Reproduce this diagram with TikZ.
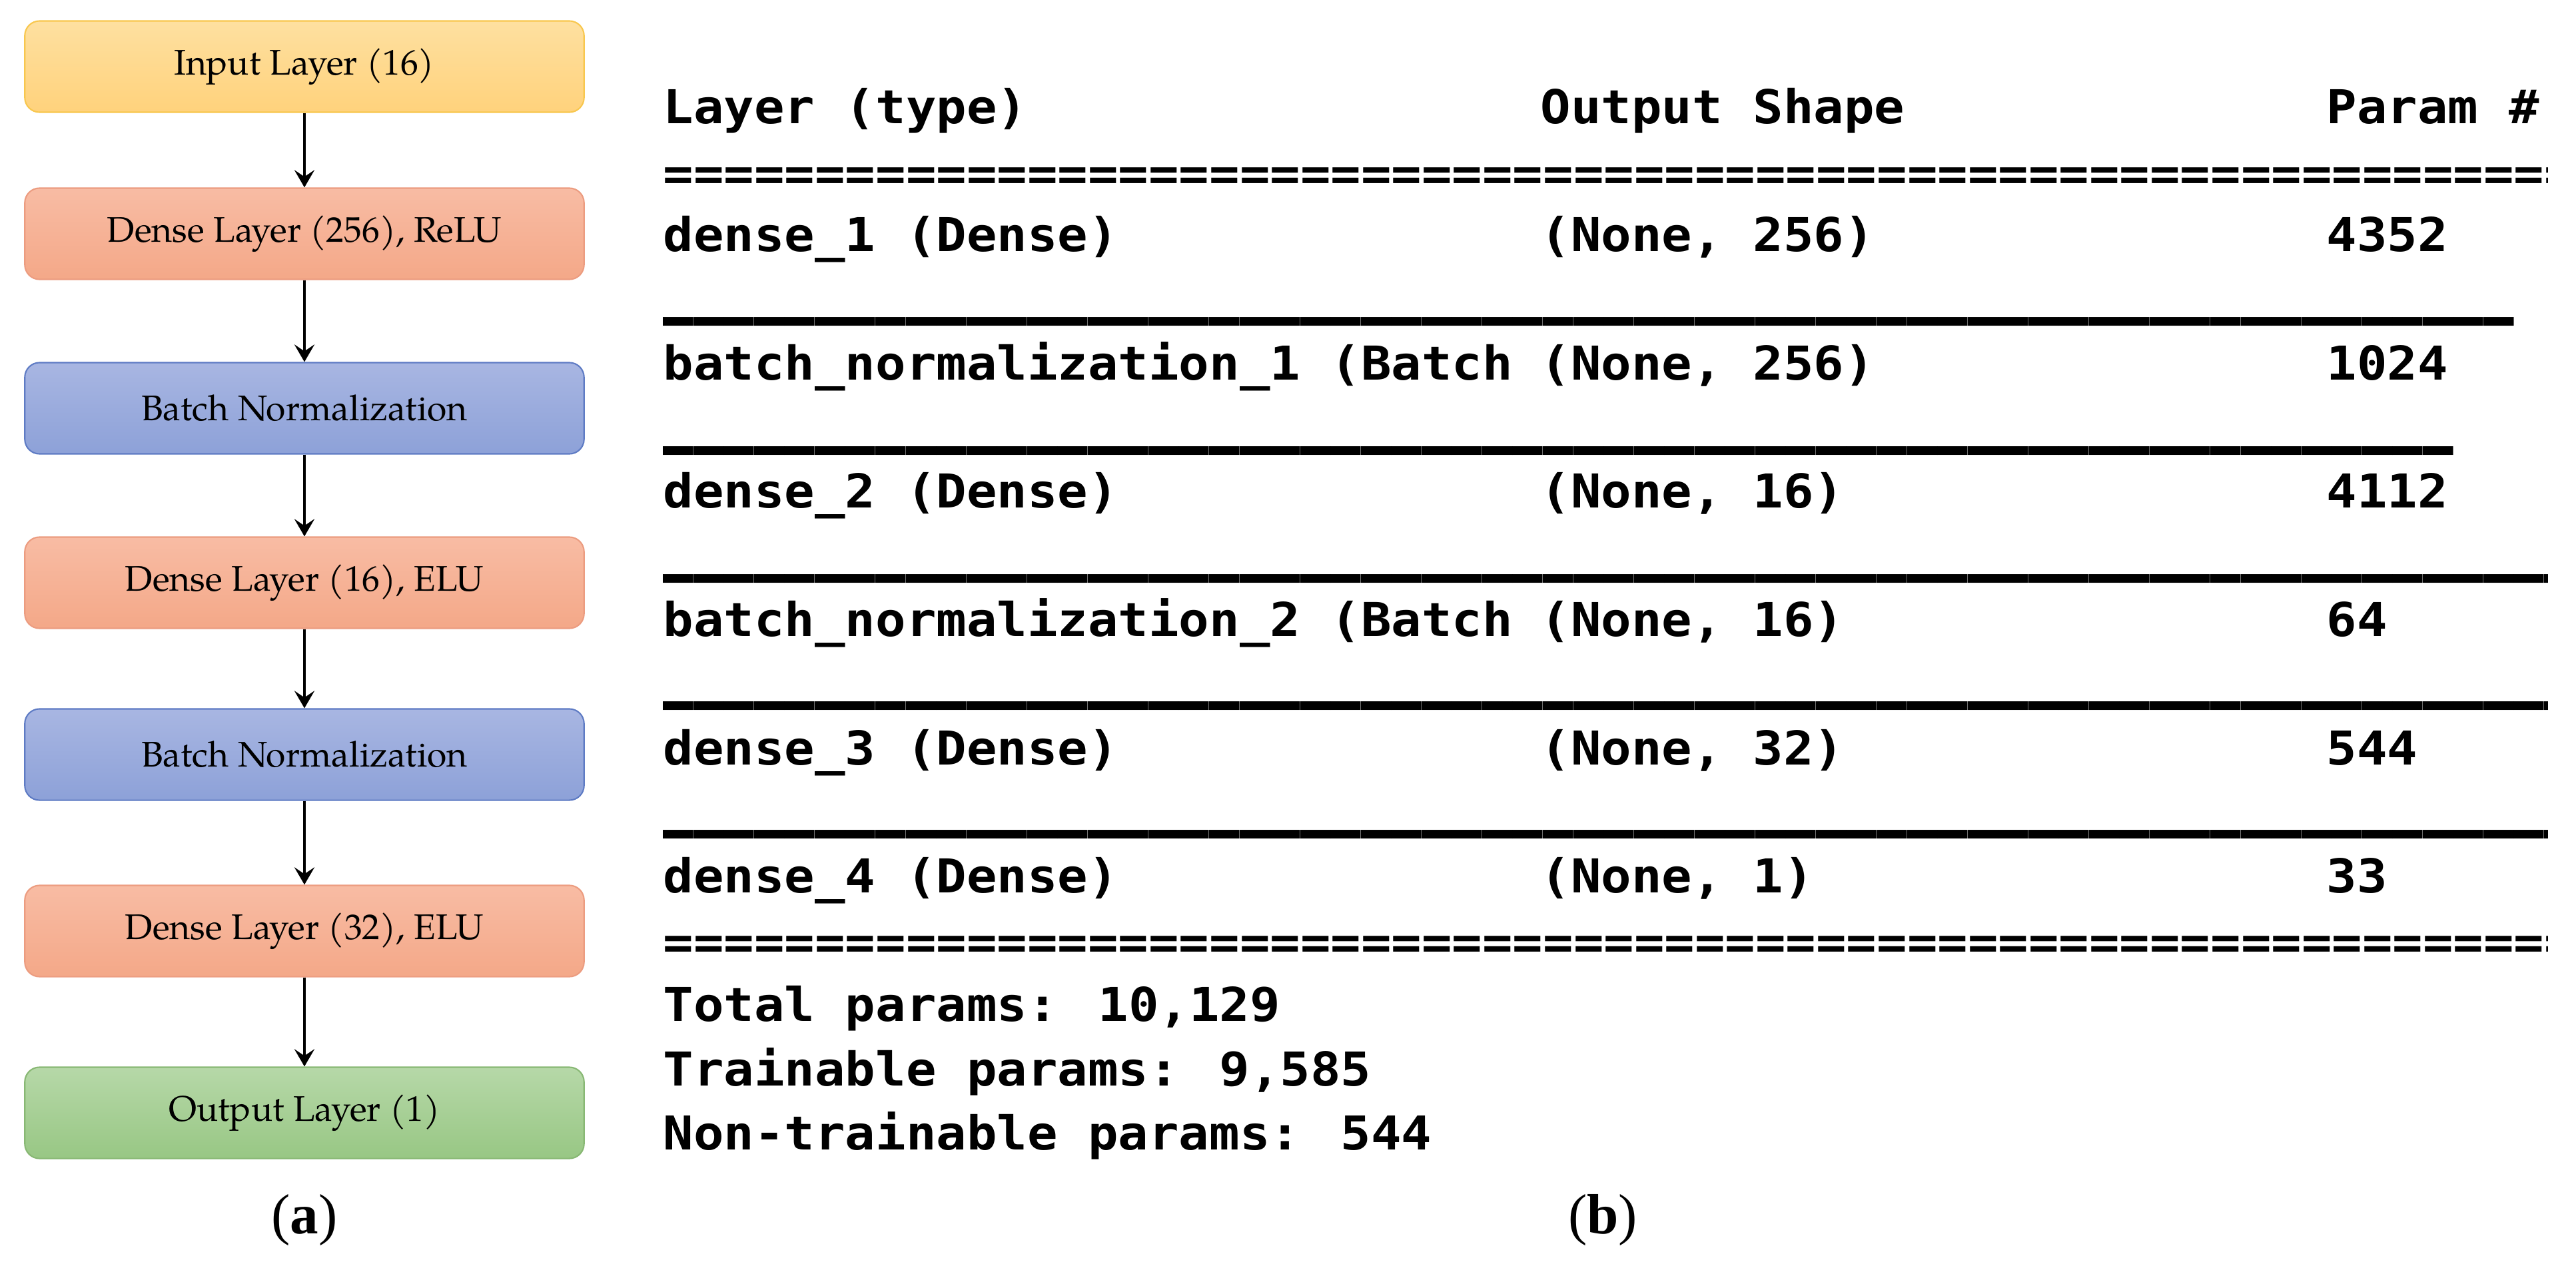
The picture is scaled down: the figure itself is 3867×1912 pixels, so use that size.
\documentclass[tikz,border=0pt]{standalone}
\usepackage{fontspec}
\usetikzlibrary{arrows.meta}
\newfontfamily\palfont{TeX Gyre Pagella}
\newfontfamily\labfont{Liberation Serif}
\newfontfamily\monofont[FakeStretch=1.08]{DejaVu Sans Mono}
\ExplSyntaxOn
\NewDocumentCommand\reps{mm}{\prg_replicate:nn{#1}{#2}}
\ExplSyntaxOff
\definecolor{inTop}{HTML}{FEE0A0}
\definecolor{inBot}{HTML}{FFD27C}
\definecolor{inLine}{HTML}{F8C74E}
\definecolor{dnTop}{HTML}{F8BCA4}
\definecolor{dnBot}{HTML}{F4A888}
\definecolor{dnLine}{HTML}{EC9C80}
\definecolor{bnTop}{HTML}{A8B6E2}
\definecolor{bnBot}{HTML}{8DA1D8}
\definecolor{bnLine}{HTML}{5E7BC4}
\definecolor{ouTop}{HTML}{B6D8A8}
\definecolor{ouBot}{HTML}{98C784}
\definecolor{ouLine}{HTML}{88B874}
\tikzset{
  layerbox/.style={draw, rounded corners=0.22cm, minimum width=8.39cm, minimum height=1.37cm,
    line width=0.6pt, inner sep=0pt, font=\palfont\fontsize{15.2}{18}\selectfont},
  inbox/.style={layerbox, top color=inTop, bottom color=inBot, draw=inLine},
  dnbox/.style={layerbox, top color=dnTop, bottom color=dnBot, draw=dnLine},
  bnbox/.style={layerbox, top color=bnTop, bottom color=bnBot, draw=bnLine},
  oubox/.style={layerbox, top color=ouTop, bottom color=ouBot, draw=ouLine},
  flow/.style={-{Stealth[length=0.26cm,width=0.3cm,inset=0.1cm]}, line width=1.4pt},
  cell/.style={anchor=base west, inner sep=0pt, font=\monofont\bfseries\fontsize{19.92}{22}\selectfont},
  sublabel/.style={inner sep=0pt, font=\labfont\fontsize{24.2}{28}\selectfont},
}
\newcommand\ruleline[1]{\scalebox{1}[2]{\reps{#1}{\_}}}
\begin{document}
\begin{tikzpicture}[x=0.01cm, y=-0.01cm]
\fill[white] (0,0) rectangle (3867,1912);
\useasboundingbox (0,0) rectangle (3867,1912);
% (a) layer stack
\node[inbox] (in) at (457,100) {Input Layer (16)};
\node[dnbox] (d1) at (457,351) {Dense Layer (256), ReLU};
\node[bnbox] (b1) at (457,613) {Batch Normalization};
\node[dnbox] (d2) at (457,875) {Dense Layer (16), ELU};
\node[bnbox] (b2) at (457,1133) {Batch Normalization};
\node[dnbox] (d3) at (457,1398) {Dense Layer (32), ELU};
\node[oubox] (out) at (457,1671) {Output Layer (1)};
\draw[flow] (in) -- (d1);
\draw[flow] (d1) -- (b1);
\draw[flow] (b1) -- (d2);
\draw[flow] (d2) -- (b2);
\draw[flow] (b2) -- (d3);
\draw[flow] (d3) -- (out);
\node[sublabel] (la) at (457,1832) {(\textbf{a})};
% (b) model summary
\begin{scope}
\clip (0,0) rectangle (3824,1912);
\node[cell] (h1) at (995,185) {Layer (type)};
\node[cell] (h2) at (2312,185) {Output Shape};
\node[cell] (h3) at (3492,185) {Param \#};
\node[cell] (eq1) at (995,285) {\reps{65}{=}};
\node[cell] (r1a) at (995,377) {dense\_1 (Dense)};
\node[cell] (r1b) at (2312,377) {(None, 256)};
\node[cell] (r1c) at (3492,377) {4352};
\node[cell] (u1) at (995,456) {\ruleline{61}};
\node[cell] (r2a) at (995,570) {batch\_normalization\_1 (Batch};
\node[cell] (r2b) at (2312,570) {(None, 256)};
\node[cell] (r2c) at (3492,570) {1024};
\node[cell] (u2) at (995,650) {\ruleline{59}};
\node[cell] (r3a) at (995,762) {dense\_2 (Dense)};
\node[cell] (r3b) at (2312,762) {(None, 16)};
\node[cell] (r3c) at (3492,762) {4112};
\node[cell] (u3) at (995,842) {\ruleline{65}};
\node[cell] (r4a) at (995,955) {batch\_normalization\_2 (Batch};
\node[cell] (r4b) at (2312,955) {(None, 16)};
\node[cell] (r4c) at (3492,955) {64};
\node[cell] (u4) at (995,1033) {\ruleline{65}};
\node[cell] (r5a) at (995,1148) {dense\_3 (Dense)};
\node[cell] (r5b) at (2312,1148) {(None, 32)};
\node[cell] (r5c) at (3492,1148) {544};
\node[cell] (u5) at (995,1226) {\ruleline{65}};
\node[cell] (r6a) at (995,1340) {dense\_4 (Dense)};
\node[cell] (r6b) at (2312,1340) {(None, 1)};
\node[cell] (r6c) at (3492,1340) {33};
\node[cell] (eq2) at (995,1439) {\reps{65}{=}};
\node[cell] (s1) at (995,1533) {Total params: 10,129};
\node[cell] (s2) at (995,1630) {Trainable params: 9,585};
\node[cell] (s3) at (995,1726) {Non-trainable params: 544};
\end{scope}
\node[sublabel] (lb) at (2406,1832) {(\textbf{b})};
\end{tikzpicture}
\end{document}
